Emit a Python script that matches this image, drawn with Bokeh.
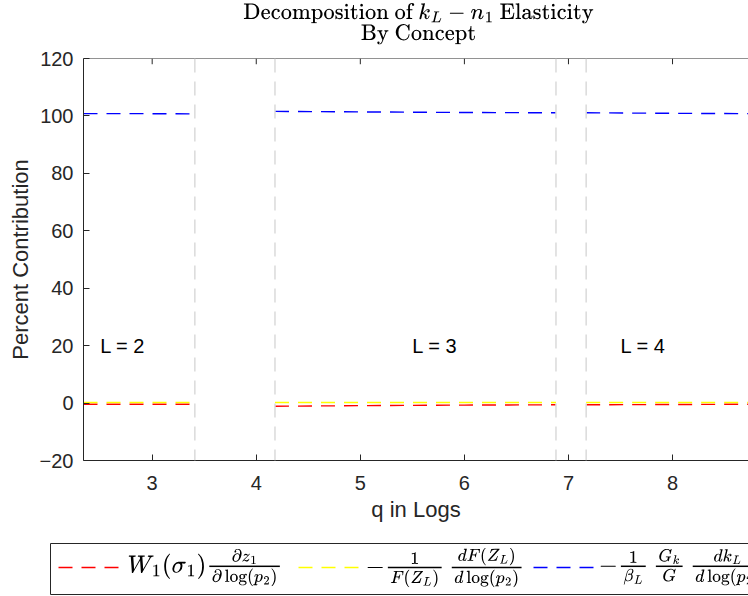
import numpy as np
from bokeh.plotting import figure
from bokeh.layouts import column
from bokeh.models import Range1d, Span, Label, TeX, FixedTicker
from bokeh.core.properties import value
from bokeh.embed import file_html
from bokeh.resources import INLINE

# Regime boundaries in q (log) where the number of active firms L changes
regime_breaks = [3.41, 4.18, 6.88, 7.17]

# Decomposition segments for L = 2, 3, 4 (NaN separates the regimes)
q_vals = [2.34, 2.9, 3.41, np.nan,
          4.18, 5.0, 6.0, 6.88, np.nan,
          7.17, 8.0, 8.73]
w1_term = [-0.4, -0.4, -0.4, np.nan,
           -1.1, -0.9, -0.7, -0.6, np.nan,
           -0.6, -0.5, -0.4]
f_term = [0.2, 0.2, 0.2, np.nan,
          0.2, 0.2, 0.2, 0.2, np.nan,
          0.2, 0.2, 0.2]
k_term = [100.8, 100.8, 100.7, np.nan,
          101.6, 101.4, 101.2, 101.1, np.nan,
          101.1, 100.9, 100.8]

regime_labels = ["L = 2", "L = 3", "L = 4"]
regime_label_q = [2.5, 5.5, 7.5]
regime_label_y = [20, 20, 20]

x_ticks = [3, 4, 5, 6, 7, 8]
y_ticks = [-20, 0, 20, 40, 60, 80, 100, 120]

AX = "#262626"
DASH = "14 9"
SANS = "Liberation Sans"


def strip(height):
    """A blank pixel-space panel used for the title and the legend."""
    f = figure(width=748, height=height, x_range=Range1d(0, 748), y_range=Range1d(height, 0),
               output_backend="svg", toolbar_location=None, min_border=0, frame_align=False)
    f.axis.visible = False
    f.grid.visible = False
    f.outline_line_color = None
    return f


# ---- title strip ----
tf = strip(46)
tf.add_layout(Label(x=418, y=13, text=TeX(text=r"\text{Decomposition of }k_L - n_1\text{ Elasticity}", inline=True),
                    text_font_size="19px", text_align="center", text_baseline="middle", text_color="black"))
tf.add_layout(Label(x=418, y=34, text=TeX(text=r"\text{By Concept}", inline=True),
                    text_font_size="19px", text_align="center", text_baseline="middle", text_color="black"))

# ---- main axes ----
p = figure(width=748, height=484, x_range=Range1d(2.34, 8.73), y_range=Range1d(-20, 120),
           output_backend="svg", toolbar_location=None, frame_align=False,
           min_border_left=83, min_border_right=0, min_border_top=12, min_border_bottom=70)
p.grid.visible = False
p.outline_line_color = None

for ax in (p.xaxis[0], p.yaxis[0]):
    ax.axis_line_color = AX
    ax.major_tick_line_color = AX
    ax.major_tick_in = 6
    ax.major_tick_out = 0
    ax.minor_tick_line_color = None
    ax.major_label_text_font = SANS
    ax.major_label_text_font_size = "20px"
    ax.major_label_text_color = AX
    ax.axis_label_text_font = SANS
    ax.axis_label_text_font_size = "22px"
    ax.axis_label_text_font_style = "normal"
    ax.axis_label_text_color = AX

p.xaxis.ticker = FixedTicker(ticks=x_ticks)
p.yaxis.ticker = FixedTicker(ticks=y_ticks)
p.xaxis.axis_label = "q in Logs"
p.yaxis.axis_label = "Percent Contribution"
p.xaxis.major_label_standoff = 15
p.xaxis.axis_label_standoff = 4
p.yaxis.major_label_standoff = 10
p.yaxis.axis_label_standoff = 4

# top edge of the box with inward ticks
p.add_layout(Span(location=120, dimension="width", line_color=AX, line_width=1))
p.segment(x0=x_ticks, y0=[120] * len(x_ticks), x1=x_ticks, y1=[118] * len(x_ticks),
          line_color=AX, line_width=1)

for b in regime_breaks:
    p.add_layout(Span(location=b, dimension="height", line_color="#dadada",
                      line_dash=DASH, line_width=1.5))

p.line(q_vals, w1_term, line_color="#ff0000", line_width=1.4, line_dash=DASH)
p.line(q_vals, f_term, line_color="#ffff00", line_width=1.4, line_dash=DASH)
p.line(q_vals, k_term, line_color="#0000ff", line_width=1.4, line_dash=DASH)

p.text(x=regime_label_q, y=regime_label_y, text=regime_labels,
       text_font=value(SANS), text_font_size="20px", text_color="black",
       text_align="left", text_baseline="middle")

# ---- legend strip ----
lf = strip(66)
lf.quad(left=[50], right=[800], top=[13], bottom=[64], fill_color="white",
        line_color=AX, line_width=1)

legend_colors = ["#ff0000", "#ffff00", "#0000ff"]
legend_texts = [
    r"\textstyle W_1(\sigma_1)\frac{\partial z_1}{\partial \log(p_2)}",
    r"\textstyle -\frac{1}{F(Z_L)}\,\frac{dF(Z_L)}{d\log(p_2)}",
    r"\textstyle -\frac{1}{\beta_L}\,\frac{G_k}{G}\,\frac{dk_L}{d\log(p_2)}",
]
legend_line_x = [58, 298, 533]
legend_text_x = [127, 365, 598]
for c, t, x0, tx in zip(legend_colors, legend_texts, legend_line_x, legend_text_x):
    lf.line([x0, x0 + 62], [37, 37], line_color=c, line_width=1.4, line_dash=DASH)
    lf.add_layout(Label(x=tx, y=37, text=TeX(text=t, inline=True), text_font_size="21px",
                        text_align="left", text_baseline="middle", text_color="black"))

layout = column(tf, p, lf, spacing=0)
open("out.html", "w").write(file_html(layout, INLINE))
